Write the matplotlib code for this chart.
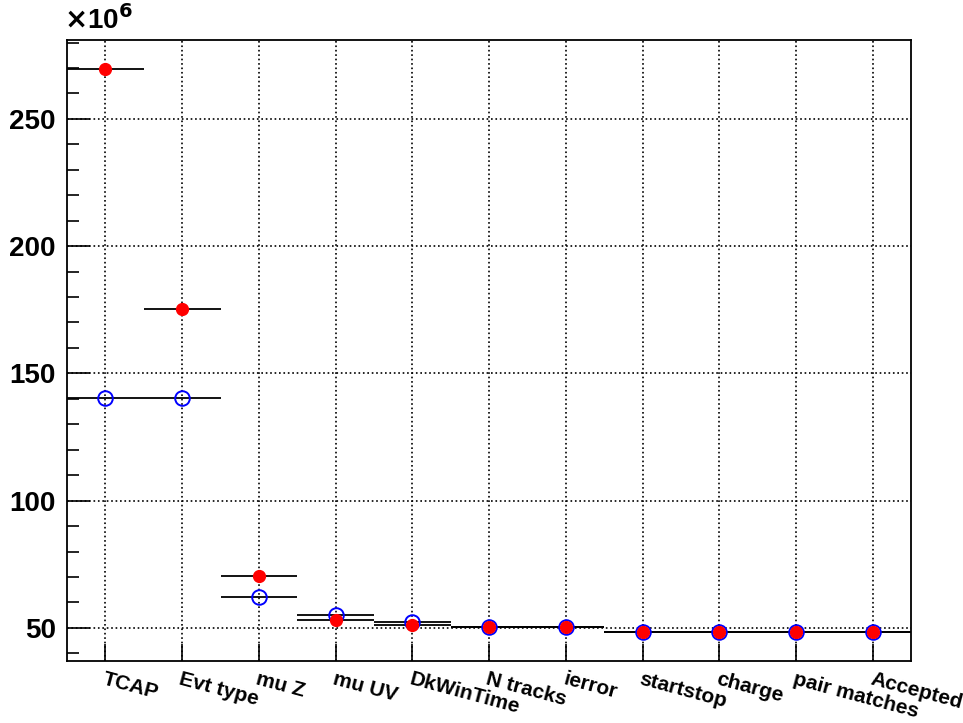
import numpy as np
import matplotlib
matplotlib.use('Agg')
import matplotlib.pyplot as plt
from matplotlib.ticker import MultipleLocator

plt.rcParams['font.family'] = ['Liberation Sans', 'DejaVu Sans']
plt.rcParams['font.weight'] = 'bold'

# cut names and counts (in units of 10^6)
cuts = ['TCAP', 'Evt type', 'mu Z', 'mu UV', 'DkWinTime', 'N tracks',
        'ierror', 'startstop', 'charge', 'pair matches', 'Accepted']
red_counts = [269.6, 175.3, 70.4, 53.0, 51.3, 50.5, 50.5, 48.2, 48.2, 48.2, 48.2]
blue_counts = [140.4, 140.4, 62.2, 54.9, 52.2, 50.5, 50.5, 48.2, 48.2, 48.2, 48.2]

x = np.arange(len(cuts)) + 0.5

fig = plt.figure(figsize=(9.63, 7.23), dpi=100)
ax = fig.add_axes([0.0696, 0.0858, 0.8768, 0.8589])

ax.errorbar(x, blue_counts, xerr=0.5, fmt='none', ecolor='black', elinewidth=1.3, zorder=2)
ax.errorbar(x, red_counts, xerr=0.5, fmt='none', ecolor='black', elinewidth=1.3, zorder=2)
ax.plot(x, blue_counts, 'o', ms=10.5, mfc='none', mec='blue', mew=1.4, ls='none', zorder=3)
ax.plot(x, red_counts, 'o', ms=8.5, mfc='red', mec='red', ls='none', zorder=4)

ax.set_xlim(0, len(cuts))
ax.set_ylim(37, 281)

ax.yaxis.set_major_locator(MultipleLocator(50))
ax.yaxis.set_minor_locator(MultipleLocator(10))
ax.set_xticks(x)
ax.set_xticklabels(cuts, rotation=-15, ha='left', va='top', rotation_mode='anchor',
                   fontsize=15, fontweight='bold')
for lab in ax.get_yticklabels():
    lab.set_fontweight('bold')
ax.tick_params(axis='y', which='major', direction='in', length=16.5, width=1.2,
               labelsize=20, pad=8)
ax.tick_params(axis='y', which='minor', direction='in', length=8.5, width=1.2)
ax.tick_params(axis='x', which='major', direction='in', length=12, width=1.2, pad=6)

ax.grid(True, which='major', ls=':', lw=1.2, color='black')
for s in ax.spines.values():
    s.set_linewidth(1.3)

fig.text(0.066, 0.952, r'$\times$10$^{6}$', fontsize=20, fontweight='bold',
         ha='left', va='bottom')

plt.savefig('out.png', dpi=100)
